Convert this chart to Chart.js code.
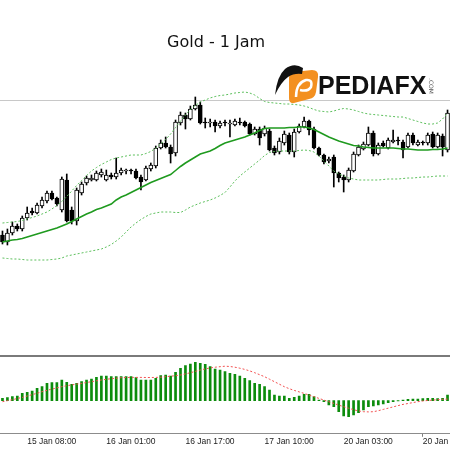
<!DOCTYPE html>
<html><head><meta charset="utf-8">
<script src="https://cdn.jsdelivr.net/npm/chart.js@4"></script>
<style>
html,body{margin:0;padding:0;background:#fff;}
#wrap{position:relative;width:450px;height:450px;overflow:hidden;background:#fff;}
#c1{position:absolute;left:0;top:0;}
#c2{position:absolute;left:0;top:357px;}
#sep{position:absolute;left:0;top:355px;width:450px;height:2px;background:#7a7a7a;}
#title{position:absolute;left:167px;top:34px;font:16px/16px "Comic Sans MS","DejaVu Sans";color:#111;white-space:nowrap;}
#brand{position:absolute;left:318px;top:73px;font:bold 25px/25px "Liberation Sans";color:#111;white-space:nowrap;}
#com{position:absolute;left:428px;top:78px;font:6px/6px "DejaVu Sans";color:#555;writing-mode:vertical-rl;}
#logo{position:absolute;left:272px;top:60px;}
</style></head>
<body><div id="wrap">
<canvas id="c1" width="450" height="340"></canvas>
<div id="sep"></div>
<canvas id="c2" width="450" height="90"></canvas>
<div id="title">Gold - 1 Jam</div>
<svg id="logo" width="52" height="46" viewBox="0 0 52 46">
  <path d="M22 12 L40 10 Q47 10 46 17 L44 32 Q43 38 37 39 L22 43 Q17 44 17 38 L17 18 Q17 12 22 12 Z" fill="#f39020"/>
  <path d="M24 37 Q24 23 34 20 Q41 19 39 27 Q36 32 28 30" stroke="#fff" stroke-width="2.5" fill="none"/>
  <path d="M31 8 Q22 2 13 9 Q5 16 3 35 Q9 22 16 17 Q22 13 30 14 Z" fill="#111"/>
</svg>
<div id="brand">PEDIAFX</div>
<div id="com">.COM</div>
</div>
<script>
// ---- data ----
const sessions = [['15 Jan',3,23],['16 Jan',1,23],['17 Jan',1,23],['20 Jan',1,23],['21 Jan',1,1]];
const categories = [];
sessions.forEach(([d,a,b]) => { for (let h = a; h <= b; h++) categories.push(d + ' ' + String(h).padStart(2,'0') + ':00'); });
const tickLabels = ['15 Jan 08:00','16 Jan 01:00','16 Jan 17:00','17 Jan 10:00','20 Jan 03:00','20 Jan 19:00'];
const levelPrice = 2720;

const ohlcOpen = [2652.5,2649,2653.5,2657,2655.5,2661,2664.5,2663.5,2667,2669.5,
 2673.5,2671,2665,2680,2665,2659.5,2673.5,2678.5,2680,2680,
 2682.5,2680,2682.5,2681.5,2683.5,2684.5,2685,2684.5,2681.5,2680,
 2685.5,2687,2696,2698.5,2696.5,2693.5,2708.5,2712.5,2710.5,2715.5,
 2717.5,2709,2708.5,2709,2707,2708.5,2708,2707.5,2709,2709,
 2708,2703,2705.5,2703,2704.5,2696,2694,2698.5,2702.5,2694,
 2704,2706.5,2709.5,2705.5,2696,2692.5,2689.5,2691.5,2683.5,2681.5,
 2680,2684.5,2692.5,2695.5,2697.5,2703.5,2693,2698.5,2696,2699,
 2699.5,2699,2696.5,2702.5,2697.5,2698.5,2698.5,2703,2696.5,2702,
 2695];
const ohlcHigh = [2654.5,2655.5,2659,2658,2662,2666.5,2666,2668.5,2671.5,2674.5,
 2674.5,2671.5,2681.5,2683,2666.5,2676,2679,2682,2682.5,2684.5,
 2685.5,2685,2683.5,2691,2686,2685.5,2685.5,2685.5,2682.5,2687,
 2688.5,2697,2700,2701.5,2697.5,2710,2714,2713.5,2717,2721.5,
 2719,2711,2710.5,2710,2709.5,2710,2710,2710.5,2711,2709.5,
 2708.5,2706.5,2706.5,2707,2705.5,2697,2701,2704.5,2703.5,2705.5,
 2708,2711.5,2710,2706.5,2696.5,2693,2691.5,2692.5,2684,2682.5,
 2686,2694,2697.5,2699,2706.5,2704.5,2698.5,2699.5,2701,2705,
 2701.5,2700,2703.5,2703.5,2700,2699.5,2703.5,2704,2703.5,2703,
 2715];
const ohlcLow = [2648,2647.5,2652.5,2654.5,2654.5,2660,2662.5,2663,2666,2668.5,
 2670,2667,2664,2659,2658,2657.5,2672.5,2677.5,2679.5,2679.5,
 2681.5,2679.5,2680.5,2680.5,2682.5,2683,2683,2680.5,2675,2679.5,
 2684.5,2686,2695.5,2696,2688.5,2692,2707.5,2705.5,2710,2715,
 2708,2706,2706.5,2704,2706,2707,2701.5,2707,2707.5,2706.5,
 2702.5,2702.5,2697.5,2702,2694.5,2692.5,2693,2697.5,2693,2691.5,
 2703.5,2706,2702.5,2695.5,2692,2688,2688.5,2676.5,2679,2674,
 2679,2684,2692,2695,2697,2692,2692.5,2696.5,2695.5,2698.5,
 2697.5,2691,2696,2697.5,2697,2697.5,2697.5,2696,2696,2692,
 2694];
const ohlcClose = [2649,2653.5,2657,2655.5,2661,2663.5,2663.5,2667.5,2670,2673.5,
 2670.5,2668,2680.5,2659.5,2659.5,2675,2678,2681,2681,2683.5,
 2684,2682.5,2681.5,2683.5,2685,2685,2684.5,2681,2679,2686,
 2687.5,2696,2698.5,2696.5,2693,2709,2712.5,2710.5,2715.5,2717.5,
 2708.5,2708.5,2709,2707,2708.5,2708.5,2708.5,2709.5,2708.5,2707,
 2703,2705.5,2701,2706,2695,2693.5,2699.5,2703,2694,2704,
 2707,2709.5,2705,2696,2692.5,2689,2690.5,2683.5,2681,2680,
 2685,2693,2696.5,2698,2703.5,2693,2697.5,2697,2700,2700,
 2699.5,2695,2702.5,2698.5,2699,2698.5,2702.5,2696.5,2702.5,2696.5,
 2713.5];

const bbUpper = [2658.5,2658.75,2659,2659.25,2659.75,2660.5,2661.25,2662,2663,2664,
 2665.5,2667.25,2669.25,2671.75,2674.5,2677.25,2679.75,2682.25,2684.5,2686.25,
 2687.75,2689,2690.25,2691,2691.5,2692,2692.5,2692.5,2692.5,2693.25,
 2694.25,2696,2698,2700.25,2703,2706.25,2709.5,2712.5,2715.25,2717.25,
 2719,2720,2721,2721.75,2722.25,2722.5,2723,2723.5,2723.75,2724,
 2723.5,2722.5,2720.75,2719.25,2718.75,2718.5,2718.25,2718,2718,2717.75,
 2717.5,2717,2716.25,2715.25,2714.5,2714.25,2714,2714.5,2715.25,2715.75,
 2715.5,2715,2714.25,2713.5,2713,2712.75,2712.5,2712.25,2712,2711.75,
 2711.5,2711.5,2710.75,2710,2709.25,2708.5,2708,2708,2708.5,2710.5,
 2713.5];
const bbMiddle = [2649,2649.5,2650,2650.25,2650.75,2651.5,2652.25,2653,2653.75,2654.5,
 2655.25,2656,2657,2658,2659.25,2660.5,2661.75,2663,2664,2665.25,
 2666,2667,2668,2670,2671.5,2672.5,2673.75,2675,2676.25,2677.5,
 2678.75,2679.75,2680.75,2681.75,2682.75,2684.75,2686.75,2688.5,2690,2691.5,
 2693,2693.75,2694.5,2695.75,2697.25,2698.5,2699.25,2700,2700.75,2701.5,
 2702.5,2703.5,2704.75,2705.75,2706,2706,2706,2706,2706.25,2706.25,
 2706.5,2706.5,2706,2705.25,2704,2702.75,2701.5,2700.5,2699.5,2698.75,
 2698,2697.25,2697,2696.5,2696.25,2696,2696,2696,2696,2696,
 2695.75,2695.5,2695.5,2695.25,2695,2695,2695,2695.25,2695.25,2695.5,
 2696];
const bbLower = [2641,2640.75,2640.5,2640.5,2640.25,2640,2640,2640,2640,2640,
 2640.25,2640.5,2641,2642,2642.5,2643,2643.5,2644,2644.5,2645,
 2645.5,2646.5,2647.75,2649.5,2651.5,2654,2656.5,2658.5,2660.25,2661.75,
 2663,2663.5,2664,2664,2664,2663.75,2663.75,2665,2666.5,2667.5,
 2668.5,2669.25,2670,2671,2672.25,2673.75,2676.5,2679.5,2682,2684,
 2686,2688,2690,2692.25,2693.75,2694.25,2694.5,2694.5,2694.5,2694.5,
 2694.75,2695,2694.75,2694,2692,2689.5,2687,2684.5,2683,2682,
 2681,2680.5,2680,2680,2680,2680,2680,2680.25,2680.5,2680.5,
 2680.5,2680.75,2681,2681,2681.25,2681.5,2681.5,2681.75,2682,2682,
 2682];

const macdHist = [0.46,0.6,0.8,0.94,1.46,1.66,1.94,2.46,2.8,3.46,
 3.6,3.6,4.14,3.66,3.26,3.46,3.8,4.14,4.34,4.66,
 4.94,4.94,4.8,4.8,4.8,4.8,4.8,4.6,4.14,4.14,
 4.14,4.46,5.0,5.14,4.94,5.66,6.46,7.0,7.34,7.66,
 7.46,7.26,6.8,6.34,6.14,5.8,5.46,5.26,4.94,4.46,
 4.0,3.46,3.26,2.8,2.14,1.14,0.94,0.94,0.46,0.66,
 0.94,1.26,1.26,0.8,0.14,-0.2,-0.86,-1.2,-2.2,-3.06,
 -3.2,-2.86,-2.4,-1.86,-1.2,-1.06,-0.86,-0.66,-0.4,-0.2,
 -0.06,0.14,0.26,0.34,0.34,0.4,0.46,0.46,0.4,0.46,
 1.14];
const macdSignal = [-0.2,0,0.2,0.44,0.66,0.94,1.2,1.5,1.8,2.06,
 2.32,2.56,2.8,3.0,3.16,3.32,3.46,3.64,3.8,3.98,
 4.14,4.28,4.4,4.5,4.6,4.64,4.66,4.66,4.66,4.64,
 4.64,4.66,4.7,4.8,4.9,5.0,5.14,5.36,5.6,5.86,
 6.14,6.36,6.56,6.7,6.8,6.9,6.84,6.7,6.5,6.26,
 5.96,5.6,5.2,4.8,4.3,3.8,3.3,2.8,2.4,2.06,
 1.76,1.46,1.12,0.8,0.46,0.14,-0.2,-0.54,-0.88,-1.2,
 -1.5,-1.8,-2.04,-2.2,-2.24,-2.2,-2.0,-1.74,-1.5,-1.24,
 -0.98,-0.74,-0.56,-0.38,-0.2,-0.06,0.04,0.12,0.2,0.26,
 0.32];

// ---- charts ----
const levelLine = {
  id: 'levelLine',
  beforeDatasetsDraw(chart) {
    const {ctx, chartArea, scales} = chart;
    const py = Math.round(scales.y.getPixelForValue(levelPrice)) + 0.5;
    ctx.save();
    ctx.strokeStyle = '#c8c8c8'; ctx.lineWidth = 1;
    ctx.beginPath(); ctx.moveTo(chartArea.left, py); ctx.lineTo(chartArea.right, py); ctx.stroke();
    ctx.restore();
  }
};

const common = {
  responsive: false, devicePixelRatio: 1, animation: false, events: [],
  layout: {padding: 0},
  plugins: {legend: {display: false}, tooltip: {enabled: false}, title: {display: false}}
};

new Chart(document.getElementById('c1'), {
  type: 'bar',
  data: {
    labels: categories,
    datasets: [
      {type: 'line', data: bbUpper, borderColor: '#5cbf5c', borderWidth: 1, borderDash: [2, 2], pointRadius: 0, fill: false, order: 0},
      {type: 'line', data: bbMiddle, borderColor: '#1f9a1f', borderWidth: 1.6, pointRadius: 0, fill: false, order: 0},
      {type: 'line', data: bbLower, borderColor: '#5cbf5c', borderWidth: 1, borderDash: [2, 2], pointRadius: 0, fill: false, order: 0},
      {type: 'bar', data: ohlcOpen.map((o, i) => [o, ohlcClose[i]]),
       backgroundColor: c => ohlcClose[c.dataIndex] > ohlcOpen[c.dataIndex] ? '#ffffff' : '#000000',
       borderColor: '#000000', borderWidth: 1, borderSkipped: false, barThickness: 4, minBarLength: 1, grouped: false, order: 1},
      {type: 'bar', data: ohlcLow.map((l, i) => [l, ohlcHigh[i]]),
       backgroundColor: '#000000', barThickness: 1, grouped: false, order: 2}
    ]
  },
  options: Object.assign({}, common, {
    scales: {
      x: {display: false, offset: true},
      y: {display: false, min: 2600, max: 2770}
    }
  }),
  plugins: [levelLine]
});

const isTick = i => tickLabels.includes(categories[i]);
new Chart(document.getElementById('c2'), {
  type: 'bar',
  data: {
    labels: categories,
    datasets: [
      {type: 'line', data: macdSignal, borderColor: '#f25050', borderWidth: 1, borderDash: [2, 2], pointRadius: 0, fill: false, order: 0},
      {type: 'bar', data: macdHist, backgroundColor: '#0c8c0c', barThickness: 2, order: 1}
    ]
  },
  options: Object.assign({}, common, {
    scales: {
      x: {
        offset: true,
        afterFit: s => { s.paddingLeft = 0; s.paddingRight = 0; },
        grid: {display: true, drawOnChartArea: false, drawTicks: true, tickLength: 3, offset: false,
               color: c => isTick(c.index) ? '#808080' : 'rgba(0,0,0,0)',
               tickColor: c => isTick(c.index) ? '#808080' : 'rgba(0,0,0,0)'},
        border: {display: true, color: '#8c8c8c', width: 1},
        ticks: {autoSkip: false, maxRotation: 0, minRotation: 0, align: 'start', padding: 0,
                color: '#222', font: {family: 'Liberation Sans', size: 8.5},
                callback: (v, i) => isTick(i) ? categories[i] : null}
      },
      y: {display: false, min: -6.62, max: 8.74}
    }
  })
});
</script>
</body></html>
